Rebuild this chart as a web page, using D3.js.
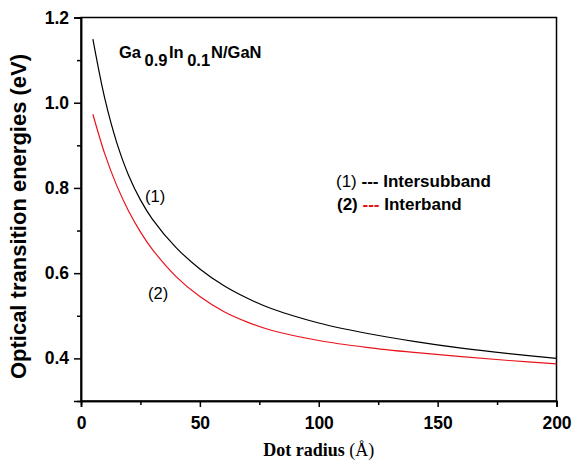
<!DOCTYPE html>
<html>
<head>
<meta charset="utf-8">
<script src="https://cdn.jsdelivr.net/npm/d3@7/dist/d3.min.js"></script>
<style>
  html, body { margin: 0; padding: 0; background: #fff; }
  svg { display: block; }
</style>
</head>
<body>
<svg id="chart" width="575" height="464"></svg>
<script>
// Dot radius (Å)
const radius = [5, 10, 15, 20, 25, 30, 40, 50, 60, 70, 80, 100, 120, 140, 160, 180, 200];
// (1) intersubband transition energy (eV)
const intersubband = [1.149, 1.010, 0.907, 0.830, 0.772, 0.727, 0.660, 0.610, 0.571, 0.541, 0.517, 0.483, 0.459, 0.440, 0.424, 0.411, 0.400];
// (2) interband transition energy (eV)
const interband = [0.973, 0.880, 0.806, 0.746, 0.697, 0.656, 0.592, 0.545, 0.510, 0.485, 0.466, 0.442, 0.426, 0.414, 0.404, 0.395, 0.387];

const xMajor = [0, 50, 100, 150, 200];
const xMinor = [25, 75, 125, 175];
const yMajor = [0.4, 0.6, 0.8, 1.0, 1.2];
const yMinor = [0.5, 0.7, 0.9, 1.1];

const svg = d3.select("#chart");
const plotL = 81, plotR = 556.5, plotT = 17.5, plotB = 401;

const x = d3.scaleLinear().domain([0, 200]).range([plotL, plotR]);
const y = d3.scaleLinear().domain([0.3, 1.2]).range([plotB, plotT]);

const sans = "'Liberation Sans', Arial, sans-serif";
const serif = "'Liberation Serif', 'Times New Roman', serif";

// frame
svg.append("rect")
  .attr("x", plotL).attr("y", plotT)
  .attr("width", plotR - plotL).attr("height", plotB - plotT)
  .attr("fill", "none").attr("stroke", "#000").attr("stroke-width", 1.5);

// axes
svg.append("g").attr("transform", `translate(0,${plotB})`)
  .call(d3.axisBottom(x).tickValues(xMajor).tickSize(6).tickPadding(10).tickFormat(d3.format("d")));
svg.append("g").attr("transform", `translate(0,${plotB})`)
  .call(d3.axisBottom(x).tickValues(xMinor).tickSize(4).tickFormat(""));
svg.append("g").attr("transform", `translate(${plotL},0)`)
  .call(d3.axisLeft(y).tickValues(yMajor).tickSize(7).tickPadding(5).tickFormat(d3.format(".1f")));
svg.append("g").attr("transform", `translate(${plotL},0)`)
  .call(d3.axisLeft(y).tickValues(yMinor).tickSize(4).tickFormat(""));

svg.selectAll(".domain").attr("stroke", "#000").attr("stroke-width", 1.5);
svg.selectAll(".tick line").attr("stroke", "#000").attr("stroke-width", 1.5);
svg.selectAll(".tick text")
  .attr("font-family", sans).attr("font-weight", "bold").attr("font-size", 17.5).attr("fill", "#000");

// curves
const line = d3.line().x((d, i) => x(radius[i])).y(d => y(d)).curve(d3.curveCatmullRom);
svg.append("path").datum(intersubband)
  .attr("d", line).attr("fill", "none").attr("stroke", "#000").attr("stroke-width", 1.2);
svg.append("path").datum(interband)
  .attr("d", line).attr("fill", "none").attr("stroke", "#e8141c").attr("stroke-width", 1.2);

// axis titles
svg.append("text")
  .attr("transform", `translate(26,${(50 + 383) / 2}) rotate(-90)`)
  .attr("text-anchor", "middle")
  .attr("font-family", sans).attr("font-weight", "bold").attr("font-size", 22)
  .text("Optical transition energies (eV)");

const xt = svg.append("text")
  .attr("x", (plotL + plotR) / 2).attr("y", 456)
  .attr("text-anchor", "middle")
  .attr("font-family", serif).attr("font-size", 18);
xt.append("tspan").attr("font-weight", "bold").text("Dot radius ");
xt.append("tspan").text("(Å)");

// material label
const mat = svg.append("text").attr("x", 119).attr("y", 58)
  .attr("font-family", sans).attr("font-weight", "bold").attr("font-size", 16.5);
mat.append("tspan").text("Ga");
mat.append("tspan").attr("dx", 3.5).attr("dy", 8).text("0.9");
mat.append("tspan").attr("dx", 1.5).attr("dy", -8).text("In");
mat.append("tspan").attr("dx", 3.5).attr("dy", 8).text("0.1");
mat.append("tspan").attr("dx", 1).attr("dy", -8).text("N/GaN");

// curve labels
svg.append("text").attr("x", 145).attr("y", 202)
  .attr("font-family", sans).attr("font-size", 16.5).text("(1)");
svg.append("text").attr("x", 148).attr("y", 299)
  .attr("font-family", sans).attr("font-size", 16.5).text("(2)");

// legend
const l1 = svg.append("text").attr("x", 336).attr("y", 187)
  .attr("font-family", sans).attr("font-size", 17);
l1.append("tspan").text("(1) ");
l1.append("tspan").attr("font-weight", "bold").text("--- Intersubband");

const l2 = svg.append("text").attr("x", 337).attr("y", 210)
  .attr("font-family", sans).attr("font-size", 17).attr("font-weight", "bold");
l2.append("tspan").text("(2) ");
l2.append("tspan").attr("fill", "#e8141c").text("---");
l2.append("tspan").text(" Interband");
</script>
</body>
</html>
